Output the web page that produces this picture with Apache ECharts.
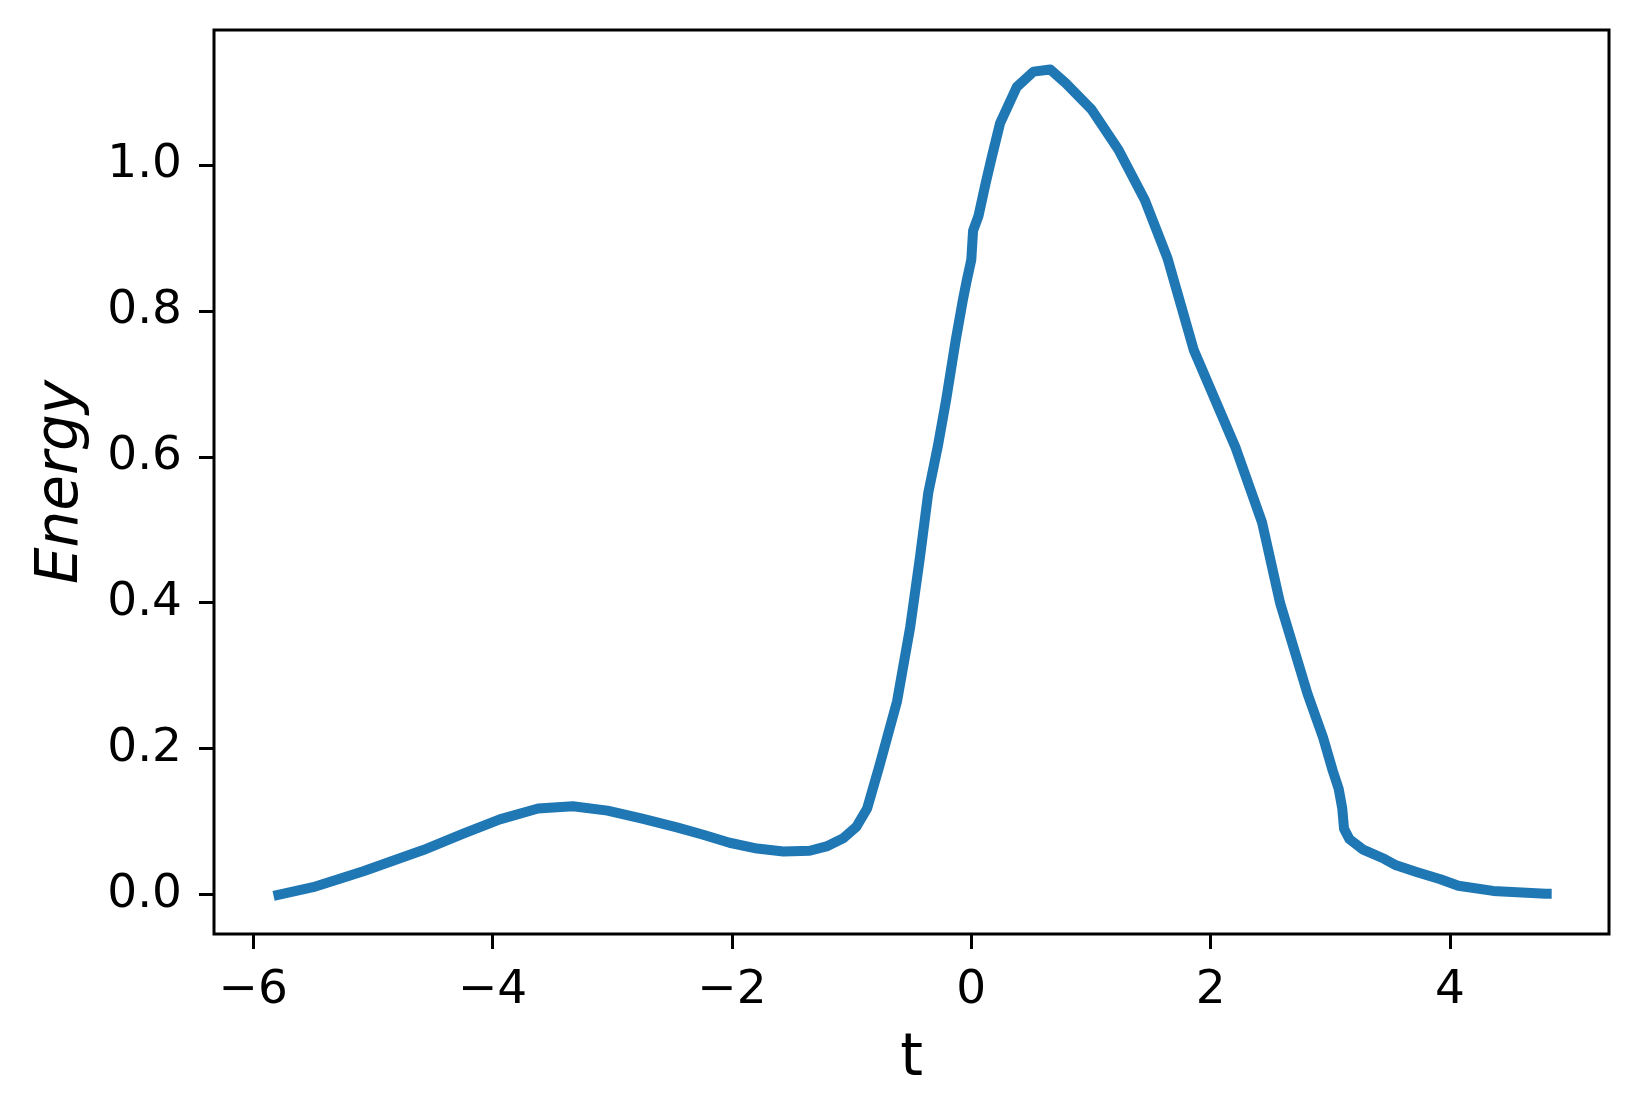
<!doctype html>
<html lang="en">
    <head>
        <meta charset="UTF-8">
        <title>Energy vs t</title>
        <style>
            html, body { margin: 0; padding: 0; background: #ffffff; }
            #main { width: 1639px; height: 1116px; }
        </style>
    </head>
    <body>
        <div id="main"></div>
        <script src="https://cdn.jsdelivr.net/npm/echarts@6/dist/echarts.min.js"></script>
        <script type="text/javascript">
        // values
        var tValues = [
            -5.83, -5.50, -5.08, -4.58, -4.25, -3.94, -3.62, -3.33, -3.04, -2.75,
            -2.46, -2.24, -2.02, -1.79, -1.57, -1.35, -1.21, -1.07, -0.96, -0.87,
            -0.77, -0.62, -0.51, -0.43, -0.36, -0.28, -0.21, -0.13, -0.07, -0.04,
            0.00, 0.015, 0.06, 0.12, 0.17, 0.24, 0.38, 0.52, 0.66, 0.79,
            1.005, 1.23, 1.45, 1.64, 1.86, 2.21, 2.43, 2.58, 2.81, 2.94,
            3.02, 3.07, 3.10, 3.115, 3.16, 3.27, 3.45, 3.55, 3.72, 3.92,
            4.07, 4.36, 4.80, 4.85
        ];
        var energyValues = [
            -0.002, 0.010, 0.032, 0.061, 0.083, 0.103, 0.118, 0.121, 0.115, 0.104,
            0.092, 0.082, 0.071, 0.063, 0.059, 0.060, 0.066, 0.077, 0.093, 0.118,
            0.175, 0.265, 0.367, 0.461, 0.550, 0.614, 0.678, 0.760, 0.815, 0.840,
            0.870, 0.910, 0.930, 0.975, 1.010, 1.057, 1.107, 1.128, 1.131, 1.112,
            1.076, 1.021, 0.952, 0.872, 0.746, 0.612, 0.510, 0.400, 0.275, 0.215,
            0.170, 0.145, 0.118, 0.090, 0.076, 0.062, 0.049, 0.040, 0.031, 0.021,
            0.012, 0.005, 0.001, 0.001
        ];
        var xTicks = [-6, -4, -2, 0, 2, 4];
        var yTicks = [0, 0.2, 0.4, 0.6, 0.8, 1.0];

        var points = tValues.map(function (t, i) { return [t, energyValues[i]]; });

        var myChart = echarts.init(document.getElementById('main'), null, { renderer: 'canvas' });

        var font = 'DejaVu Sans';

        var option = {
            animation: false,
            backgroundColor: '#ffffff',
            grid: {
                left: 214,
                right: 30,
                top: 30,
                bottom: 182,
                show: true,
                borderColor: '#000000',
                borderWidth: 3,
                containLabel: false
            },
            xAxis: {
                type: 'value',
                min: -6.328,
                max: 5.329,
                name: 't',
                nameLocation: 'middle',
                nameGap: 97,
                nameTextStyle: { fontFamily: font, fontSize: 58, color: '#000' },
                axisLine: { show: false, onZero: false },
                splitLine: { show: false },
                axisTick: {
                    show: true, inside: false, length: 15,
                    customValues: xTicks,
                    lineStyle: { color: '#000', width: 3 }
                },
                axisLabel: {
                    customValues: xTicks,
                    margin: 33,
                    fontFamily: font,
                    fontSize: 47,
                    color: '#000',
                    formatter: function (v) { return String(v).replace('-', '\u2212'); }
                }
            },
            yAxis: {
                type: 'value',
                min: -0.0541,
                max: 1.1851,
                name: 'Energy',
                nameLocation: 'middle',
                nameGap: 123,
                nameTextStyle: { fontFamily: font, fontSize: 58, fontStyle: 'italic', color: '#000' },
                axisLine: { show: false, onZero: false },
                splitLine: { show: false },
                axisTick: {
                    show: true, inside: false, length: 15,
                    customValues: yTicks,
                    lineStyle: { color: '#000', width: 3 }
                },
                axisLabel: {
                    customValues: yTicks,
                    margin: 32,
                    fontFamily: font,
                    fontSize: 47,
                    color: '#000',
                    formatter: function (v) { return v.toFixed(1); }
                }
            },
            series: [
                {
                    name: 'Energy',
                    type: 'line',
                    data: points,
                    showSymbol: false,
                    smooth: false,
                    lineStyle: { color: '#1f77b4', width: 10, join: 'round', cap: 'butt' },
                    emphasis: { disabled: true },
                    clip: true
                }
            ]
        };

        myChart.setOption(option);
        </script>
    </body>
</html>
